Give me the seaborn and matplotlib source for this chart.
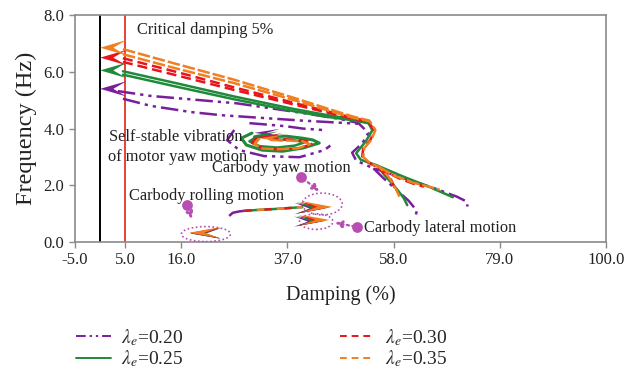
import matplotlib
matplotlib.use("Agg")
import matplotlib.pyplot as plt
from matplotlib.lines import Line2D
from matplotlib.patches import Ellipse
import seaborn as sns
import pandas as pd

# ---------------------------------------------------------------- data
labels = ["0.20", "0.25", "0.30", "0.35"]

x_ticks = [-5.0, 5.0, 16.0, 37.0, 58.0, 79.0, 100.0]
y_ticks = [0.0, 2.0, 4.0, 6.0, 8.0]

# lambda_e = 0.20 (purple)
p_main1_x = [3.5, 10, 27, 40, 47, 51, 53, 51.8, 49.8, 50.6, 54, 60, 66, 70.5, 72.5, 72.6]
p_main1_y = [5.32, 5.15, 4.89, 4.55, 4.35, 4.2, 3.85, 3.48, 3.15, 2.87, 2.6, 2.25, 1.9, 1.6, 1.42, 1.25]
p_main2_x = [4.5, 10, 18, 24, 40, 48, 51]
p_main2_y = [5.05, 4.8, 4.58, 4.47, 4.28, 4.2, 4.17]
p_tail_x = [54, 56, 58.5, 61, 62.6, 62.3]
p_tail_y = [2.6, 2.25, 1.85, 1.45, 1.1, 0.9]
p_loop_x = [26.5, 25.1, 27.5, 32.4, 39.4, 44.3, 45.5]
p_loop_y = [3.95, 3.59, 3.24, 3.03, 2.99, 3.24, 3.4]
p_top_x = [29.5, 33, 36.8, 40, 44]
p_top_y = [4.19, 4.14, 4.08, 4.0, 3.95]

# lambda_e = 0.25 (green)
g_main1_x = [4.5, 15, 26.5, 38, 45, 50, 53, 53.8, 52.5, 50.6, 51.5, 54.6, 60, 65, 69.7]
g_main1_y = [6.02, 5.6, 5.13, 4.7, 4.47, 4.33, 4.2, 3.94, 3.55, 3.13, 2.9, 2.71, 2.3, 1.95, 1.58]
g_main2_x = [4.5, 15, 26.5, 38, 45, 50, 53]
g_main2_y = [5.9, 5.48, 5.03, 4.62, 4.41, 4.29, 4.19]
g_tail_x = [54.6, 56.5, 58.5, 60.0, 60.7]
g_tail_y = [2.71, 2.3, 1.9, 1.55, 1.30]
g_loop_x = [30.0, 27.9, 28.9, 32.0, 36, 40.0, 43.3, 42, 40.0, 36.8, 33, 30.5]
g_loop_y = [3.84, 3.66, 3.42, 3.24, 3.2, 3.31, 3.49, 3.6, 3.66, 3.73, 3.72, 3.7]
g_inner_x = [31, 29.5, 31.5, 35, 38.5, 40.5, 38, 34]
g_inner_y = [3.72, 3.55, 3.38, 3.33, 3.4, 3.52, 3.6, 3.62]

# lambda_e = 0.30 (red)
r_main1_x = [4.5, 15, 26.5, 38, 45, 50, 53, 54.2, 53.4, 52, 51.8, 53, 55, 57.5, 58.6]
r_main1_y = [6.48, 6.0, 5.45, 4.92, 4.6, 4.38, 4.25, 3.92, 3.6, 3.3, 3.02, 2.8, 2.62, 2.2, 1.76]
r_main2_x = [4.5, 15, 26.5, 38, 45, 50, 53]
r_main2_y = [6.35, 5.88, 5.36, 4.86, 4.56, 4.35, 4.24]
r_tail_x = [55, 59, 62, 64]
r_tail_y = [2.62, 2.25, 2.05, 1.95]
r_loop_x = [31.0, 30.0, 31.8, 35, 39.5, 42, 40.5, 36.5, 32.5]
r_loop_y = [3.68, 3.5, 3.32, 3.27, 3.3, 3.47, 3.58, 3.62, 3.64]

# lambda_e = 0.35 (orange)
o_main1_x = [4.5, 15, 26.5, 38, 45, 50, 53.2, 54.4, 53.6, 52.2, 52.0, 53.2, 55.2, 57.0, 58.4, 59.2]
o_main1_y = [6.8, 6.28, 5.72, 5.1, 4.7, 4.42, 4.28, 3.95, 3.6, 3.31, 3.0, 2.8, 2.64, 2.3, 1.9, 1.58]
o_main2_x = [4.5, 15, 26.5, 38, 45, 50, 53.2]
o_main2_y = [6.62, 6.12, 5.6, 5.02, 4.64, 4.38, 4.26]
o_tail_x = [55.2, 58, 61.7, 65, 67.1]
o_tail_y = [2.64, 2.35, 2.1, 1.95, 1.85]
o_loop_x = [31.5, 30.5, 32, 35, 39, 41.5, 40, 37, 33.5]
o_loop_y = [3.65, 3.45, 3.3, 3.27, 3.3, 3.45, 3.55, 3.58, 3.6]

# carbody yaw branch (shared horizontal path)
yaw_path_x = [28.5, 31, 35, 39.95]
yaw_path_y = [1.1, 1.13, 1.17, 1.23]
yaw_lead_x = [25.5, 26.2, 27.5, 28.5]
yaw_lead_y = [0.92, 1.03, 1.08, 1.1]

# arrowhead tips, order: 0.20, 0.25, 0.30, 0.35
start_tip_x = [0.0, 0.0, 0.0, 0.0]
start_tip_y = [5.4, 6.05, 6.5, 6.85]
loop_tip_x = [30.5, 30.2, 31.0, 31.5]
loop_tip_y = [3.85, 3.76, 3.7, 3.66]
yaw_tip_x = [44.4, 44.8, 45.4, 45.9]
yaw_tip_y = [1.18, 1.2, 1.22, 1.24]
lat_tip_x = [43.8, 44.3, 44.8, 45.3]
lat_tip_y = [0.72, 0.74, 0.76, 0.78]
roll_tip_x = [17.9, 17.8, 17.7, 17.6]
roll_tip_y = [0.3, 0.31, 0.32, 0.33]

# annotation markers and guides
mode_dot_x = [17.2, 39.75, 50.8]
mode_dot_y = [1.30, 2.29, 0.53]
mode_arrow_x = [18.3, 43.7, 45.9]
mode_arrow_y = [0.72, 1.73, 0.70]
ring_x = [20.9, 43.9, 42.7]
ring_y = [0.28, 1.34, 0.72]
ring_w = [9.7, 7.9, 6.6]
ring_h = [0.53, 0.77, 0.55]

# ---------------------------------------------------------------- style
sns.set_theme(style="white")
plt.rcParams["font.family"] = ["Liberation Serif", "DejaVu Serif"]
plt.rcParams["mathtext.fontset"] = "stix"

PURPLE = "#7A1F9B"
GREEN = "#1F8A3A"
RED = "#E8141B"
ORANGE = "#F07F22"
MAGENTA = "#B84DB3"
SPINE = "#8A8A8A"

LS_P = (0, (7, 2, 1.3, 2, 1.3, 2))
LS_G = "-"
LS_R = (0, (4, 2))
LS_O = (0, (5, 1.2))

fig = plt.figure(figsize=(6.4, 3.77), dpi=100)
ax = fig.add_axes([0.117, 0.358, 0.83, 0.602])


def line(xs, ys, color, ls, lw=1.8):
    df = pd.DataFrame({"x": xs, "y": ys})
    sns.lineplot(data=df, x="x", y="y", sort=False, estimator=None, ax=ax,
                 color=color, linestyle=ls, lw=lw)


def arrowhead(tx, ty, direction, color, length=4.2, half=0.2):
    back = tx - direction * length
    notch = tx - direction * length * 0.5
    ax.fill([tx, back, notch, back, tx], [ty, ty + half, ty, ty - half, ty],
            color=color, lw=0, zorder=4)


# reference lines: zero damping and 5% critical damping
ax.axvline(0, color="black", lw=1.4, zorder=1)
ax.axvline(5, color="#E8302A", lw=1.3, zorder=1)

# purple branches
line(p_main1_x, p_main1_y, PURPLE, LS_P)
line(p_main2_x, p_main2_y, PURPLE, LS_P)
line(p_tail_x, p_tail_y, PURPLE, LS_P)
line(p_loop_x, p_loop_y, PURPLE, LS_P)
line(p_top_x, p_top_y, PURPLE, LS_P)
# green branches
line(g_main1_x, g_main1_y, GREEN, LS_G)
line(g_main2_x, g_main2_y, GREEN, LS_G)
line(g_tail_x, g_tail_y, GREEN, LS_G)
line(g_loop_x, g_loop_y, GREEN, LS_G, lw=2.2)
line(g_inner_x, g_inner_y, GREEN, LS_G)
# red branches
line(r_main1_x, r_main1_y, RED, LS_R)
line(r_main2_x, r_main2_y, RED, LS_R)
line(r_tail_x, r_tail_y, RED, LS_R)
line(r_loop_x, r_loop_y, RED, LS_R)
# orange branches
line(o_main1_x, o_main1_y, ORANGE, LS_O)
line(o_main2_x, o_main2_y, ORANGE, LS_O)
line(o_tail_x, o_tail_y, ORANGE, LS_O)
line(o_loop_x, o_loop_y, ORANGE, LS_O)

# carbody yaw path
line(yaw_lead_x, yaw_lead_y, PURPLE, LS_P)
line(yaw_path_x, yaw_path_y, GREEN, LS_G)
line(yaw_path_x, yaw_path_y, RED, (0, (3, 5)))
line(yaw_path_x, yaw_path_y, ORANGE, (3, (3, 5)))

colors = [PURPLE, GREEN, RED, ORANGE]
for i, c in enumerate(colors):
    arrowhead(start_tip_x[i], start_tip_y[i], -1, c, length=5.2, half=0.27)
    arrowhead(loop_tip_x[i], loop_tip_y[i], -1, c, length=5.0, half=0.14)
    arrowhead(yaw_tip_x[i], yaw_tip_y[i], 1, c, length=6.0, half=0.2)
    arrowhead(lat_tip_x[i], lat_tip_y[i], 1, c, length=5.5, half=0.18)
    arrowhead(roll_tip_x[i], roll_tip_y[i], -1, c, length=6.0, half=0.19)

# mode markers, dotted guides and rings
ax.scatter(mode_dot_x, mode_dot_y, s=60, color=MAGENTA, zorder=5, lw=0)
for i in range(len(mode_dot_x)):
    ax.annotate("", xy=(mode_arrow_x[i], mode_arrow_y[i]),
                xytext=(mode_dot_x[i], mode_dot_y[i]),
                arrowprops=dict(arrowstyle="-|>", color=MAGENTA, lw=1.6,
                                linestyle=(0, (1, 1.5)), mutation_scale=10))
    ax.add_patch(Ellipse((ring_x[i], ring_y[i]), ring_w[i], ring_h[i],
                         fill=False, ec=MAGENTA, lw=1.2, ls=(0, (1, 1.5)),
                         zorder=3))

# mode labels
txt = dict(fontsize=11.8, color="#222222", va="center", ha="left", zorder=6)
ax.text(7.3, 7.46, "Critical damping 5%", **txt)
ax.text(1.7, 3.70, "Self-stable vibration", **txt)
ax.text(1.5, 3.0, "of motor yaw motion", **txt)
ax.text(22.1, 2.62, "Carbody yaw motion", **txt)
ax.text(5.7, 1.62, "Carbody rolling motion", **txt)
ax.text(52.2, 0.49, "Carbody lateral motion", **txt)

# axes
ax.set_xlim(-5, 100)
ax.set_ylim(0, 8)
ax.set_xticks(x_ticks)
ax.set_xticklabels([f"{v:.1f}" for v in x_ticks])
ax.set_yticks(y_ticks)
ax.set_yticklabels([f"{v:.1f}" for v in y_ticks])
ax.tick_params(axis="both", labelsize=12, colors="#222222", length=4,
               width=1, direction="out", bottom=True, left=True)
ax.tick_params(axis="both", color=SPINE)
for s in ax.spines.values():
    s.set_color(SPINE)
    s.set_linewidth(1.2)
ax.set_xlabel("Damping (%)", fontsize=14.5, labelpad=12, color="#222222")
ax.set_ylabel("Frequency (Hz)", fontsize=17.5, labelpad=5, color="#222222")

handles = [
    Line2D([], [], color=PURPLE, ls=(0, (5, 2, 1.2, 2, 1.2, 2)), lw=1.4),
    Line2D([], [], color=GREEN, ls=LS_G, lw=1.4),
    Line2D([], [], color=RED, ls=(0, (3.5, 2.5)), lw=1.4),
    Line2D([], [], color=ORANGE, ls=(0, (3.5, 2.5)), lw=1.4),
]
leg_labels = [rf"$\lambda_e$=" + v for v in labels]
fig.legend(handles, leg_labels, loc="upper left", bbox_to_anchor=(0.113, 0.143),
           ncol=2, frameon=False, fontsize=14, handlelength=1.8,
           columnspacing=8.05, labelspacing=0.05, handletextpad=0.5,
           borderaxespad=0.0, borderpad=0.2)

fig.savefig("out.png", dpi=100)
